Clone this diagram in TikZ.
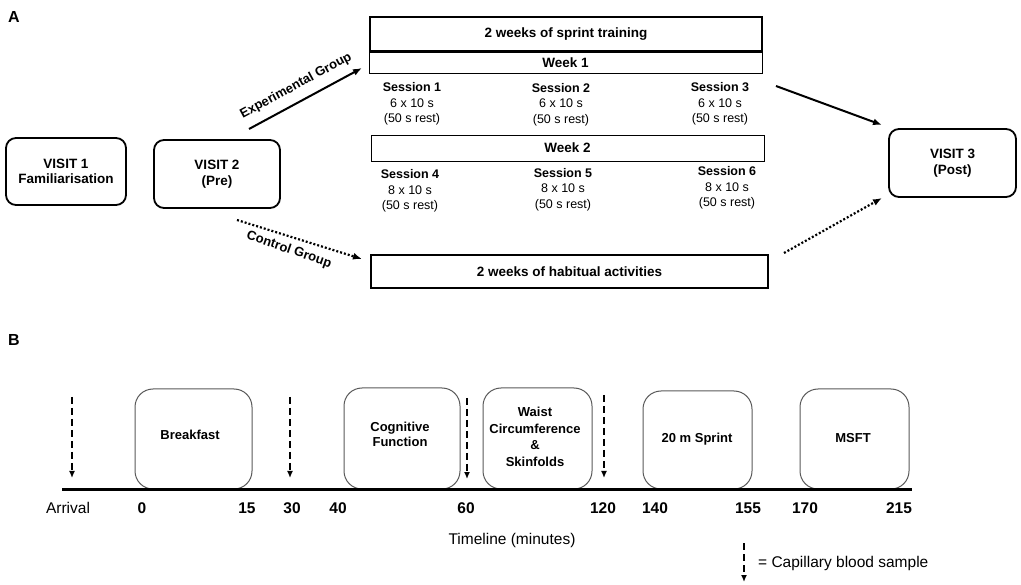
\documentclass[tikz,border=0pt]{standalone}
\usepackage{fontspec}
\setmainfont{Liberation Sans}
\usetikzlibrary{arrows.meta}
\begin{document}
\begin{tikzpicture}[x=1pt,y=-1pt,
  visit/.style={draw, line width=1.8pt, rounded corners=10pt, inner sep=0pt, align=center, font=\fontsize{13.5}{15.5}\selectfont\bfseries},
  thickbox/.style={draw, line width=2.2pt, inner sep=0pt, font=\fontsize{13.5}{16}\selectfont\bfseries},
  weekbox/.style={draw, line width=0.9pt, inner sep=0pt, font=\fontsize{13.5}{16}\selectfont\bfseries},
  sess/.style={align=center, inner sep=0pt, font=\fontsize{12.5}{15.5}\selectfont},
  act/.style={draw=black!65, line width=1pt, rounded corners=18pt, inner sep=0pt, align=center, font=\fontsize{13}{16.5}\selectfont\bfseries},
  ticklab/.style={font=\fontsize{15.5}{18}\selectfont\bfseries, inner sep=0pt},
  plainlab/.style={font=\fontsize{15.5}{18}\selectfont, inner sep=0pt},
  grp/.style={font=\fontsize{13}{15}\selectfont\bfseries, inner sep=0pt},
  solidarrow/.style={line width=2pt, -{Latex[length=9pt,width=7pt]}},
  dotarrow/.style={line width=2.2pt, dash pattern=on 2pt off 2pt, -{Latex[length=9pt,width=7pt]}},
  blood/.style={line width=1.8pt, dash pattern=on 7pt off 4pt, -{Latex[length=7pt,width=6pt]}},
  panel/.style={font=\fontsize{16}{18}\selectfont\bfseries, inner sep=0pt}
]
\useasboundingbox (0,0) rectangle (1021,585);

% ---------- Panel A ----------
\node[panel] (pA) at (14,17) {A};
\node[visit, minimum width=120pt, minimum height=67pt] (v1) at (66,171.5) {VISIT 1\\Familiarisation};
\node[visit, minimum width=126pt, minimum height=68pt] (v2) at (217,174) {VISIT 2\\(Pre)};
\node[visit, minimum width=127pt, minimum height=68pt] (v3) at (952.5,163) {VISIT 3\\(Post)};

\node[thickbox, minimum width=392pt, minimum height=34pt] (sprint) at (566,34) {2 weeks of sprint training};
\node[weekbox, minimum width=393pt, minimum height=21pt] (w1) at (565.5,62.5) {Week 1};
\node[weekbox, minimum width=393pt, minimum height=26pt] (w2) at (567.5,148) {Week 2};
\node[thickbox, minimum width=397pt, minimum height=33pt] (habit) at (569.5,271.5) {2 weeks of habitual activities};

\node[sess] (s1) at (412,104) {\textbf{Session 1}\\6 x 10 s\\(50 s rest)};
\node[sess] (s2) at (561,104.5) {\textbf{Session 2}\\6 x 10 s\\(50 s rest)};
\node[sess] (s3) at (720,104) {\textbf{Session 3}\\6 x 10 s\\(50 s rest)};
\node[sess] (s4) at (410,191) {\textbf{Session 4}\\8 x 10 s\\(50 s rest)};
\node[sess] (s5) at (563,189.5) {\textbf{Session 5}\\8 x 10 s\\(50 s rest)};
\node[sess] (s6) at (727,188) {\textbf{Session 6}\\8 x 10 s\\(50 s rest)};

\coordinate (e0) at (249,129);
\coordinate (e1) at (362,68);
\coordinate (c0) at (237,220);
\coordinate (c1) at (362,259);
\coordinate (p0) at (776,86);
\coordinate (p1) at (882,125);
\coordinate (q0) at (784,253);
\coordinate (q1) at (882,198);

\draw[solidarrow] (e0) -- (e1);
\draw[dotarrow] (c0) -- (c1);
\draw[solidarrow] (p0) -- (p1);
\draw[dotarrow] (q0) -- (q1);
\node[grp, rotate=28.4] (eg) at (296,86) {Experimental Group};
\node[grp, rotate=-19] (cg) at (289,250) {Control Group};

% ---------- Panel B ----------
\node[panel] (pB) at (14,340) {B};

\node[act, minimum width=117pt, minimum height=100pt] (bf) at (193.5,439) {};
\node[font=\fontsize{13}{16}\selectfont\bfseries] (bft) at (190,435) {Breakfast};
\node[act, minimum width=116pt, minimum height=101pt] (cf) at (402,438.5) {};
\node[align=center, font=\fontsize{13}{15}\selectfont\bfseries] (cft) at (400,434.5) {Cognitive\\Function};
\node[act, minimum width=109pt, minimum height=101pt] (wc) at (537.5,438.5) {};
\node[align=center, font=\fontsize{13}{16.7}\selectfont\bfseries] (wct) at (535,437) {Waist\\Circumference\\\&\\Skinfolds};
\node[act, minimum width=109pt, minimum height=98pt] (sp) at (697.5,440) {};
\node[font=\fontsize{13}{16}\selectfont\bfseries] (spt) at (697,439) {20 m Sprint};
\node[act, minimum width=109pt, minimum height=100pt] (ms) at (854.5,439) {};
\node[font=\fontsize{13}{16}\selectfont\bfseries] (mst) at (853,438) {MSFT};

\coordinate (tl0) at (62,489);
\coordinate (tl1) at (912,489);
\draw[line width=3pt] (tl0) -- (tl1);

\coordinate (b1a) at (72,397);  \coordinate (b1b) at (72,478);
\coordinate (b2a) at (290,397); \coordinate (b2b) at (290,478);
\coordinate (b3a) at (467,398); \coordinate (b3b) at (467,479);
\coordinate (b4a) at (604,395); \coordinate (b4b) at (604,478);
\coordinate (b5a) at (744,543); \coordinate (b5b) at (744,582);
\draw[blood] (b1a) -- (b1b);
\draw[blood] (b2a) -- (b2b);
\draw[blood] (b3a) -- (b3b);
\draw[blood] (b4a) -- (b4b);
\draw[blood] (b5a) -- (b5b);

\node[plainlab] (arr) at (68,508) {Arrival};
\node[ticklab] (t0) at (142,508) {0};
\node[ticklab] (t15) at (247,508) {15};
\node[ticklab] (t30) at (292,508) {30};
\node[ticklab] (t40) at (338,508) {40};
\node[ticklab] (t60) at (466,508) {60};
\node[ticklab] (t120) at (603,508) {120};
\node[ticklab] (t140) at (655,508) {140};
\node[ticklab] (t155) at (748,508) {155};
\node[ticklab] (t170) at (805,508) {170};
\node[ticklab] (t215) at (899,508) {215};

\node[plainlab] (tlab) at (512,540) {Timeline (minutes)};
\node[plainlab, anchor=west] (leg) at (758,563) {= Capillary blood sample};
\end{tikzpicture}
\end{document}
